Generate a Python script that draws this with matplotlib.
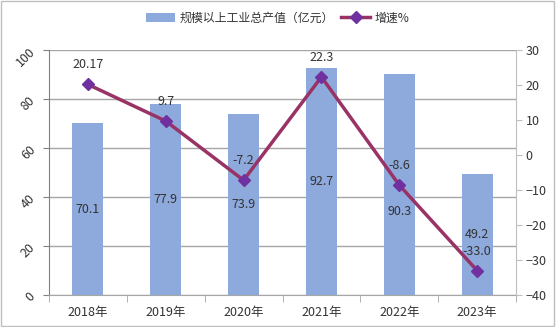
import matplotlib
matplotlib.use('Agg')
import matplotlib.pyplot as plt
from matplotlib.patches import Rectangle
import numpy as np

plt.rcParams['font.family'] = ['Noto Sans CJK SC', 'DejaVu Sans']

years = ['2018年', '2019年', '2020年', '2021年', '2022年', '2023年']
output_value = [70.1, 77.9, 73.9, 92.7, 90.3, 49.2]
growth = [20.17, 9.7, -7.2, 22.3, -8.6, -33.0]
growth_labels = ['20.17', '9.7', '-7.2', '22.3', '-8.6', '-33.0']
# where the bar value labels sit (mostly mid-bar, 2022 moved below the marker)
bar_label_y = [35.05, 38.95, 36.95, 46.35, 34.0, 24.6]

BAR_COLOR = '#8EAADC'
LINE_COLOR = '#993366'
MARKER_COLOR = '#7030A0'
TEXT_COLOR = '#333333'

fig = plt.figure(figsize=(5.56, 3.27), dpi=100)
ax1 = fig.add_axes([49 / 556, 32 / 327, 467 / 556, 245 / 327])
ax2 = ax1.twinx()

x = np.arange(len(years))
ax1.bar(x, output_value, width=0.40, color=BAR_COLOR, zorder=2,
        label='规模以上工业总产值（亿元）')
for xi, yl, v in zip(x, bar_label_y, output_value):
    ax1.text(xi, yl, '%.1f' % v, ha='center', va='center', fontsize=9, color=TEXT_COLOR, zorder=3)

ax1.set_xlim(-0.5, len(years) - 0.5)
ax1.set_ylim(0, 100)
ax1.set_yticks(range(0, 101, 20))
ax1.set_yticklabels([str(v) for v in range(0, 101, 20)], rotation=45, fontsize=9, color=TEXT_COLOR)
ax1.grid(axis='y', color='#A6A6A6', linewidth=1, zorder=0)
ax1.set_axisbelow(True)

ax1.set_xticks(x)
ax1.set_xticklabels(years, fontsize=9, color=TEXT_COLOR)
ax1.tick_params(axis='x', which='major', length=0, pad=8)
ax1.set_xticks(np.arange(-0.5, len(years)), minor=True)
ax1.tick_params(axis='x', which='minor', length=5, color='#A6A6A6', direction='out')
ax1.tick_params(axis='y', length=4, color='#808080', direction='out', pad=4)

ax2.plot(x, growth, color=LINE_COLOR, linewidth=2.5, marker='D', markersize=6,
         markerfacecolor=MARKER_COLOR, markeredgecolor=MARKER_COLOR, label='增速%', zorder=4)
for xi, g, s in zip(x, growth, growth_labels):
    ax2.annotate(s, (xi, g), xytext=(0, 14), textcoords='offset points',
                 ha='center', va='center', fontsize=9, color=TEXT_COLOR)
ax2.set_ylim(-40, 30)
ax2.set_yticks(range(-40, 31, 10))
ax2.set_yticklabels([str(v).replace('-', '−') for v in range(-40, 31, 10)], fontsize=9, color=TEXT_COLOR)
ax2.tick_params(axis='y', length=4, color='#BFBFBF', direction='out', pad=3)

for sp in ['top']:
    ax1.spines[sp].set_visible(False)
    ax2.spines[sp].set_visible(False)
ax2.spines['left'].set_visible(False)
ax2.spines['bottom'].set_visible(False)
ax1.spines['right'].set_visible(False)
ax1.spines['left'].set_color('#808080')
ax1.spines['bottom'].set_color('#A6A6A6')
ax2.spines['right'].set_color('#BFBFBF')
ax1.spines['bottom'].set_zorder(3)

h1, l1 = ax1.get_legend_handles_labels()
h2, l2 = ax2.get_legend_handles_labels()
fig.legend(h1 + h2, l1 + l2, loc='center', bbox_to_anchor=(0.5, 1 - 18 / 327), ncol=2,
           frameon=False, fontsize=8.6, handlelength=2.4, handleheight=0.8,
           columnspacing=0.6, handletextpad=0.4, labelcolor=TEXT_COLOR)

fig.add_artist(Rectangle((0.002, 0.003), 0.995, 0.993, transform=fig.transFigure,
                         fill=False, edgecolor='#BFBFBF', linewidth=1))

fig.savefig('out.png', dpi=100)
